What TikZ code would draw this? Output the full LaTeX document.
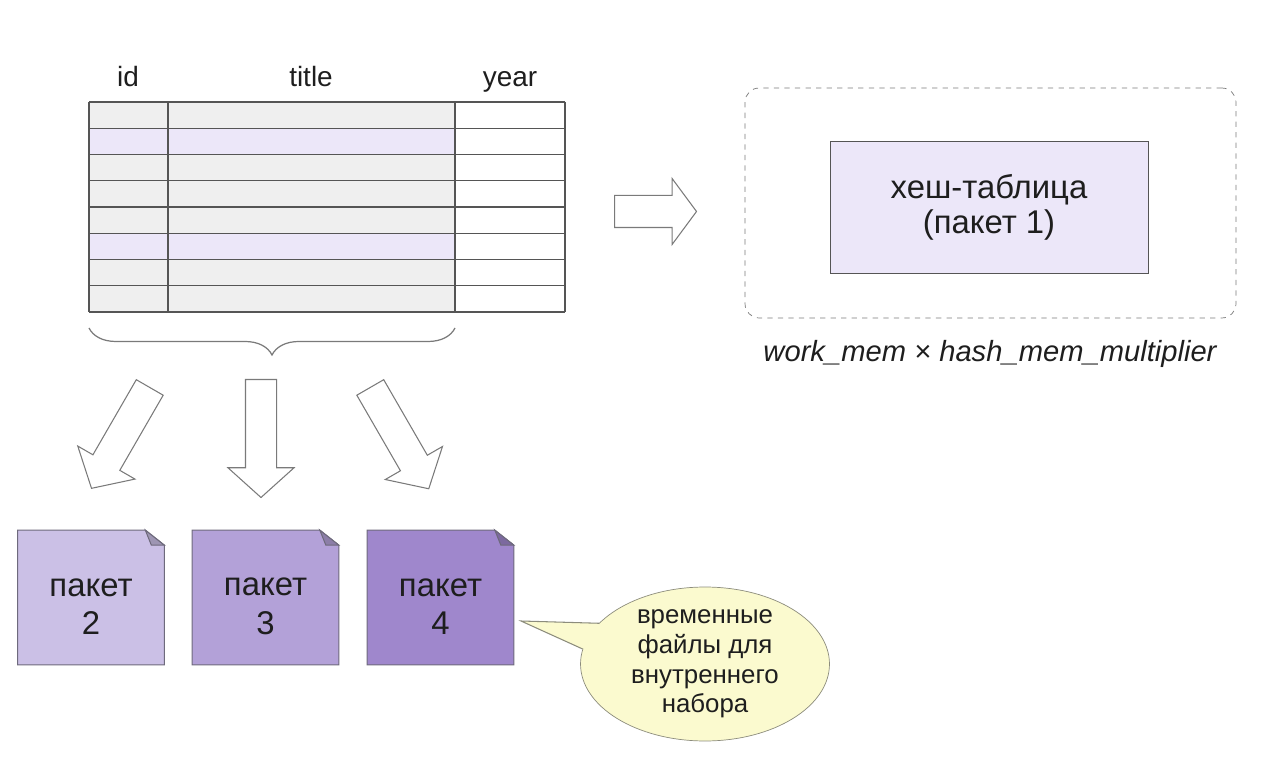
\documentclass[tikz,border=0pt]{standalone}
\usepackage{fontspec}
\setmainfont{Liberation Sans}
\usetikzlibrary{positioning,calc,shapes.arrows,shapes.geometric,decorations.pathreplacing,backgrounds}

\definecolor{cellgray}{HTML}{EFEFEF}
\definecolor{rowlav}{HTML}{ECE7F9}
\definecolor{gridline}{HTML}{555555}
\definecolor{arrowgray}{HTML}{7A7A7A}
\definecolor{pkA}{HTML}{CBC0E6}
\definecolor{pkB}{HTML}{B3A1D8}
\definecolor{pkC}{HTML}{9F87CC}
\definecolor{pkborder}{HTML}{6E6A7C}
\definecolor{notefill}{HTML}{FBFACF}
\definecolor{noteborder}{HTML}{8C8C7C}
\definecolor{textdark}{HTML}{1E1E1E}

\tikzset{
  blockarrow/.style={single arrow, draw=arrowgray, fill=white, inner xsep=0pt,
    inner ysep=0.3cm, minimum width=1.3cm, single arrow head extend=0.35cm,
    single arrow tip angle=96, anchor=tail, line width=0.6pt},
  head/.style={anchor=base, font=\fontsize{15.9}{19}\selectfont, text=textdark},
  packet/.style={minimum width=2.92cm, minimum height=2.68cm, inner sep=0pt},
  pklabel/.style={align=center, yshift=-0.18cm, inner sep=0pt,
    font=\fontsize{18.7}{22}\selectfont, text=textdark},
  memory/.style={draw=arrowgray, dashed, rounded corners=8pt,
    minimum width=9.82cm, minimum height=4.6cm},
  hashbox/.style={draw=gridline, fill=rowlav, minimum width=6.36cm,
    minimum height=2.64cm, align=center,
    font=\fontsize{18.7}{21.5}\selectfont, text=textdark},
  bubble/.style={ellipse, draw=noteborder, fill=notefill, minimum width=4.98cm,
    minimum height=3.08cm, inner sep=0pt, align=center,
    font=\fontsize{14.7}{16.9}\selectfont, text=textdark},
}

\begin{document}
\begin{tikzpicture}[x=0.02cm,y=-0.02cm]
\useasboundingbox (0,0) rectangle (1280,759);

% table
\fill[cellgray] (89,102) rectangle (455,312);
\foreach \r in {1,5}
  \fill[rowlav] (89,102+26.25*\r) rectangle (455,128.25+26.25*\r);
\foreach \r in {0,...,8}
  \draw[gridline, line width=0.6pt] (89,102+26.25*\r) -- (565,102+26.25*\r);
\foreach \c in {89,168,455,565}
  \draw[gridline, line width=0.6pt] (\c,102) -- (\c,312);
\node[head] (colid) at (128,87) {id};
\node[head] (coltitle) at (311,87) {title};
\node[head] (colyear) at (510,87) {year};

% brace under id and title
\draw[arrowgray, line width=0.7pt, decorate, decoration={brace, mirror, amplitude=0.54cm}]
  (89,328) -- (455,328);

% block arrows
\node[blockarrow, minimum height=2.33cm, rotate=240] (arrL) at (150,387) {};
\node[blockarrow, minimum height=2.36cm, rotate=270] (arrM) at (261,379) {};
\node[blockarrow, minimum height=2.34cm, rotate=300] (arrR) at (370,387) {};
\node[blockarrow, minimum height=1.64cm, inner ysep=0.31cm, single arrow head extend=0.34cm,
  single arrow tip angle=107] (arrH) at (614,211.5) {};

% packets on disk
\foreach \n/\x/\col in {2/91/pkA, 3/265.5/pkB, 4/440.5/pkC} {
  \node[packet, label={[pklabel]center:{пакет\\\n}}] (pk\n) at (\x,597.5) {};
  \begin{scope}[on background layer]
    \filldraw[fill=\col, draw=pkborder, line width=0.6pt] (pk\n.south west) -- (pk\n.north west)
      -- ([xshift=-0.38cm]pk\n.north east) -- ([yshift=-0.3cm]pk\n.north east)
      -- (pk\n.south east) -- cycle;
    \filldraw[fill=\col!78!black, draw=pkborder, line width=0.6pt] ([xshift=-0.38cm]pk\n.north east)
      -- ([xshift=-0.26cm,yshift=-0.3cm]pk\n.north east) -- ([yshift=-0.3cm]pk\n.north east) -- cycle;
  \end{scope}
}

% hash table in memory
\node[memory] (mem) at (990.5,203) {};
\node[hashbox] (hash) at (989,207) {\raisebox{-0.05cm}{хеш-таблица}\\(пакет 1)};
\node[anchor=base, font=\fontsize{16.6}{20}\selectfont\itshape, text=textdark] (memcap)
  at (990,362) {work\_mem × hash\_mem\_multiplier};

% callout
\node[bubble] (note) at (705,664) {временные\\файлы для\\внутреннего\\набора};
\coordinate (tip) at (521,621);
\fill[notefill] (tip) -- (note.159) -- ($(note.166)!0.15!(note.center)$) -- (note.173) -- cycle;
\draw[noteborder, line width=0.6pt] (note.159) -- (tip) -- (note.173);
\end{tikzpicture}
\end{document}
